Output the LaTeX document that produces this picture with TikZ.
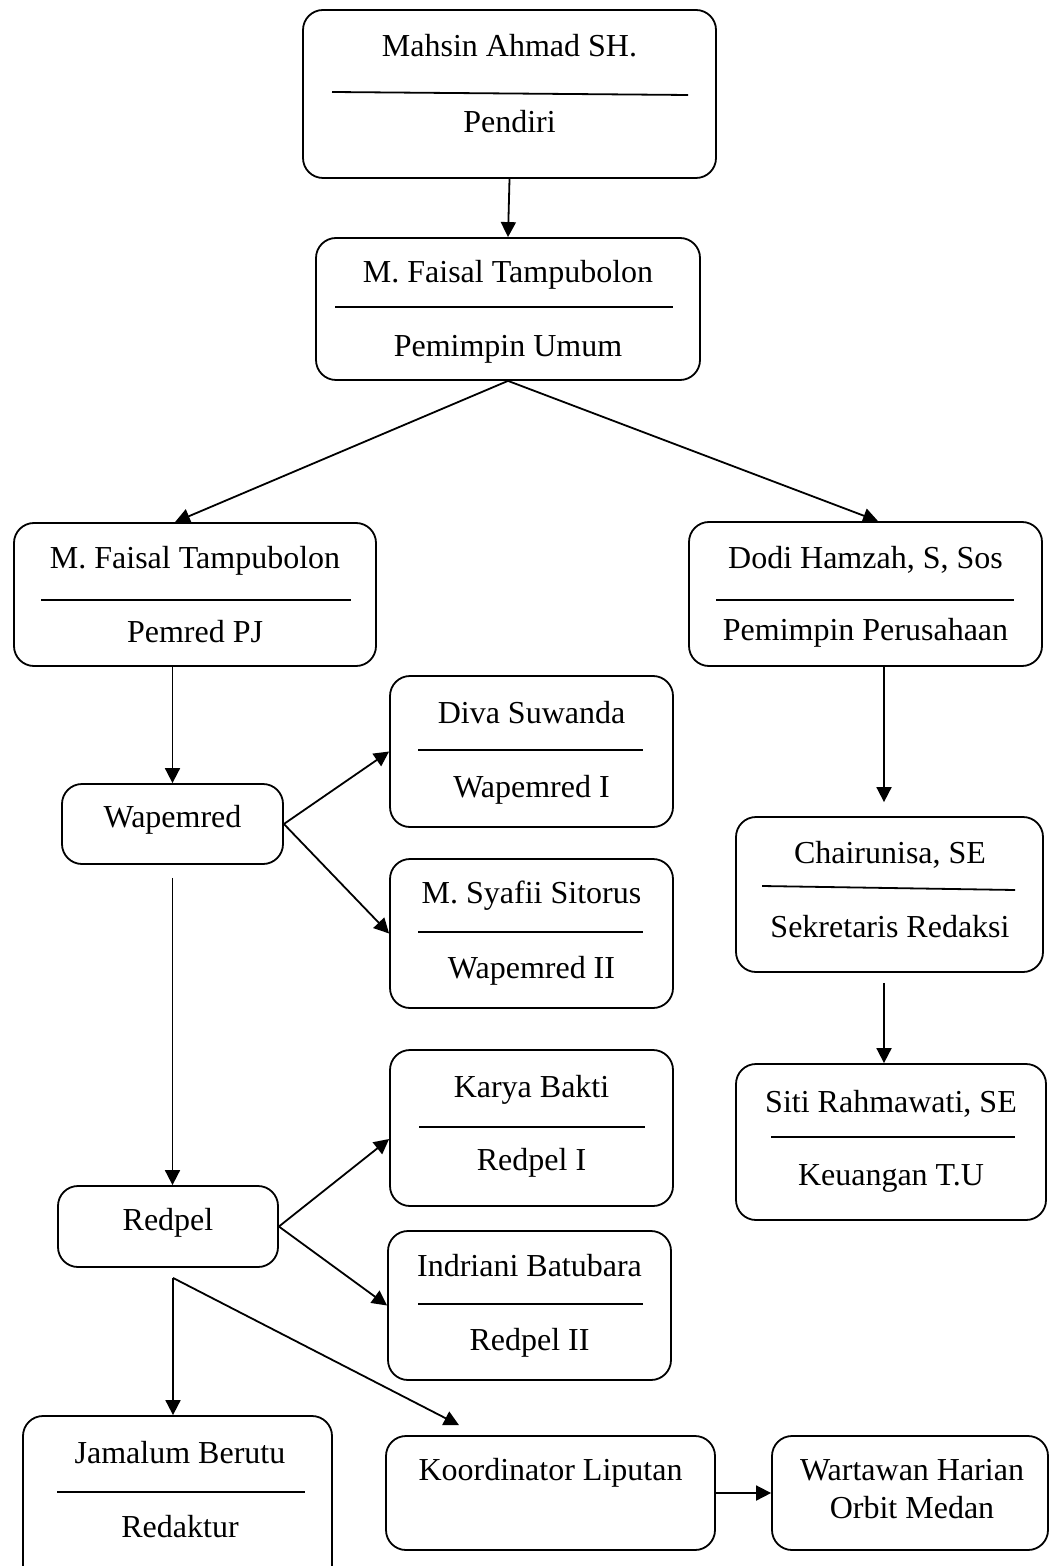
\documentclass[tikz,border=0pt]{standalone}
\usepackage{fontspec}
\setmainfont{Liberation Serif}
\usetikzlibrary{arrows.meta,calc}

\begin{document}
\begin{tikzpicture}[x=0.5pt,y=-0.5pt,line width=0.9pt,font=\fontsize{16}{19}\selectfont]
   \tikzset{unit/.style 2 args={draw, rounded corners=10pt, inner sep=0pt, minimum width=#1*0.5pt, minimum height=#2*0.5pt}};
   \tikzset{txt/.style={anchor=base, inner sep=0pt}};
   \tikzset{link/.style={-{Triangle[length=7.5pt,width=7.5pt]}, line width=0.9pt}};

\useasboundingbox (0,0) rectangle (1050,1566);
\clip (0,0) rectangle (1050,1566);

% boxes
\node[unit={413}{168}] (pendiri) at (509.5,94) {};
\node[unit={384}{142}] (umum) at (508,309) {};
\node[unit={362}{143}] (pemred) at (195,594.5) {};
\node[unit={353}{144}] (dodi) at (865.5,594) {};
\node[unit={221}{80}] (wapemred) at (172.5,824) {};
\node[unit={283}{151}] (diva) at (531.5,751.5) {};
\node[unit={283}{149}] (syafii) at (531.5,933.5) {};
\node[unit={307}{155}] (sekretaris) at (889.5,894.5) {};
\node[unit={310}{156}] (siti) at (891,1142) {};
\node[unit={220}{81}] (redpel) at (168,1226.5) {};
\node[unit={283}{156}] (karya) at (531.5,1128) {};
\node[unit={283}{149}] (indriani) at (529.5,1305.5) {};
\node[unit={309}{184}] (jamalum) at (177.5,1508) {};
\node[unit={329}{114}] (koord) at (550.5,1493) {};
\node[unit={276}{114}] (wartawan) at (910,1493) {};

% texts
\node[txt] (pendiri-a) at (509.5,57) {Mahsin Ahmad SH.};
\draw (332,92) -- (688,95);
\node[txt] (pendiri-b) at (509.5,133) {Pendiri};

\node[txt] (umum-a) at (508,283) {M. Faisal Tampubolon};
\draw (335,307) -- (673,307);
\node[txt] (umum-b) at (508,357) {Pemimpin Umum};

\node[txt] (pemred-a) at (195,568) {M. Faisal Tampubolon};
\draw (41,600) -- (351,600);
\node[txt] (pemred-b) at (195,642) {Pemred PJ};

\node[txt] (dodi-a) at (865.5,568) {Dodi Hamzah, S, Sos};
\draw (716,600) -- (1014,600);
\node[txt] (dodi-b) at (865.5,640) {Pemimpin Perusahaan};

\node[txt] (wapemred-a) at (172.5,827) {Wapemred};

\node[txt] (diva-a) at (531.5,723) {Diva Suwanda};
\draw (418,750) -- (643,750);
\node[txt] (diva-b) at (531.5,797) {Wapemred I};

\node[txt] (syafii-a) at (531.5,903) {M. Syafii Sitorus};
\draw (418,932) -- (643,932);
\node[txt] (syafii-b) at (531.5,978) {Wapemred II};

\node[txt] (sekretaris-a) at (890,863) {Chairunisa, SE};
\draw (762,886) -- (1015,890);
\node[txt] (sekretaris-b) at (890,937) {Sekretaris Redaksi};

\node[txt] (siti-a) at (891,1112) {Siti Rahmawati, SE};
\draw (771,1137) -- (1015,1137);
\node[txt] (siti-b) at (891,1185) {Keuangan T.U};

\node[txt] (redpel-a) at (168,1230) {Redpel};

\node[txt] (karya-a) at (531.5,1097) {Karya Bakti};
\draw (419,1127) -- (645,1127);
\node[txt] (karya-b) at (531.5,1170) {Redpel I};

\node[txt] (indriani-a) at (529.5,1276) {Indriani Batubara};
\draw (418,1304) -- (643,1304);
\node[txt] (indriani-b) at (529.5,1350) {Redpel II};

\node[txt] (jamalum-a) at (180,1463) {Jamalum Berutu};
\draw (57,1492) -- (305,1492);
\node[txt] (jamalum-b) at (180,1537) {Redaktur};

\node[txt] (koord-a) at (550.5,1480) {Koordinator Liputan};

\node[txt] (wartawan-a) at (912,1480) {Wartawan Harian};
\node[txt] (wartawan-b) at (912,1518) {Orbit Medan};

% connectors
\draw[link] (pendiri.south) -- (umum.north);
\draw[link] (umum.south) -- ([xshift=-10pt]pemred.north);
\draw[link] (umum.south) -- ([xshift=6.25pt]dodi.north);

\draw[link] (pemred.south -| wapemred.north) -- (wapemred.north);
\draw[link] (wapemred.east) -- (diva.west);
\draw[link] (wapemred.east) -- (syafii.west);
\draw[link, shorten <=6.5pt] (wapemred.south) -- (wapemred.south |- redpel.north);

\draw[link] (redpel.east) -- ([yshift=-5.5pt]karya.west);
\draw[link] (redpel.east) -- (indriani.west);
\coordinate (branch) at ([xshift=2.5pt,yshift=-5pt]redpel.south);
\draw[link] (branch) -- (branch |- jamalum.north);
\draw[link] (branch) -- ([xshift=-45.75pt,yshift=5pt]koord.north);
\draw[link] (koord.east) -- (wartawan.west);

\coordinate (sek-top) at ([xshift=-2.75pt]sekretaris.north);
\coordinate (sek-bot) at ([xshift=-2.75pt]sekretaris.south);
\draw[link, shorten >=7pt] (sek-top |- dodi.south) -- (sek-top);
\draw[link, shorten <=5pt] (sek-bot) -- (sek-bot |- siti.north);

\end{tikzpicture}
\end{document}
